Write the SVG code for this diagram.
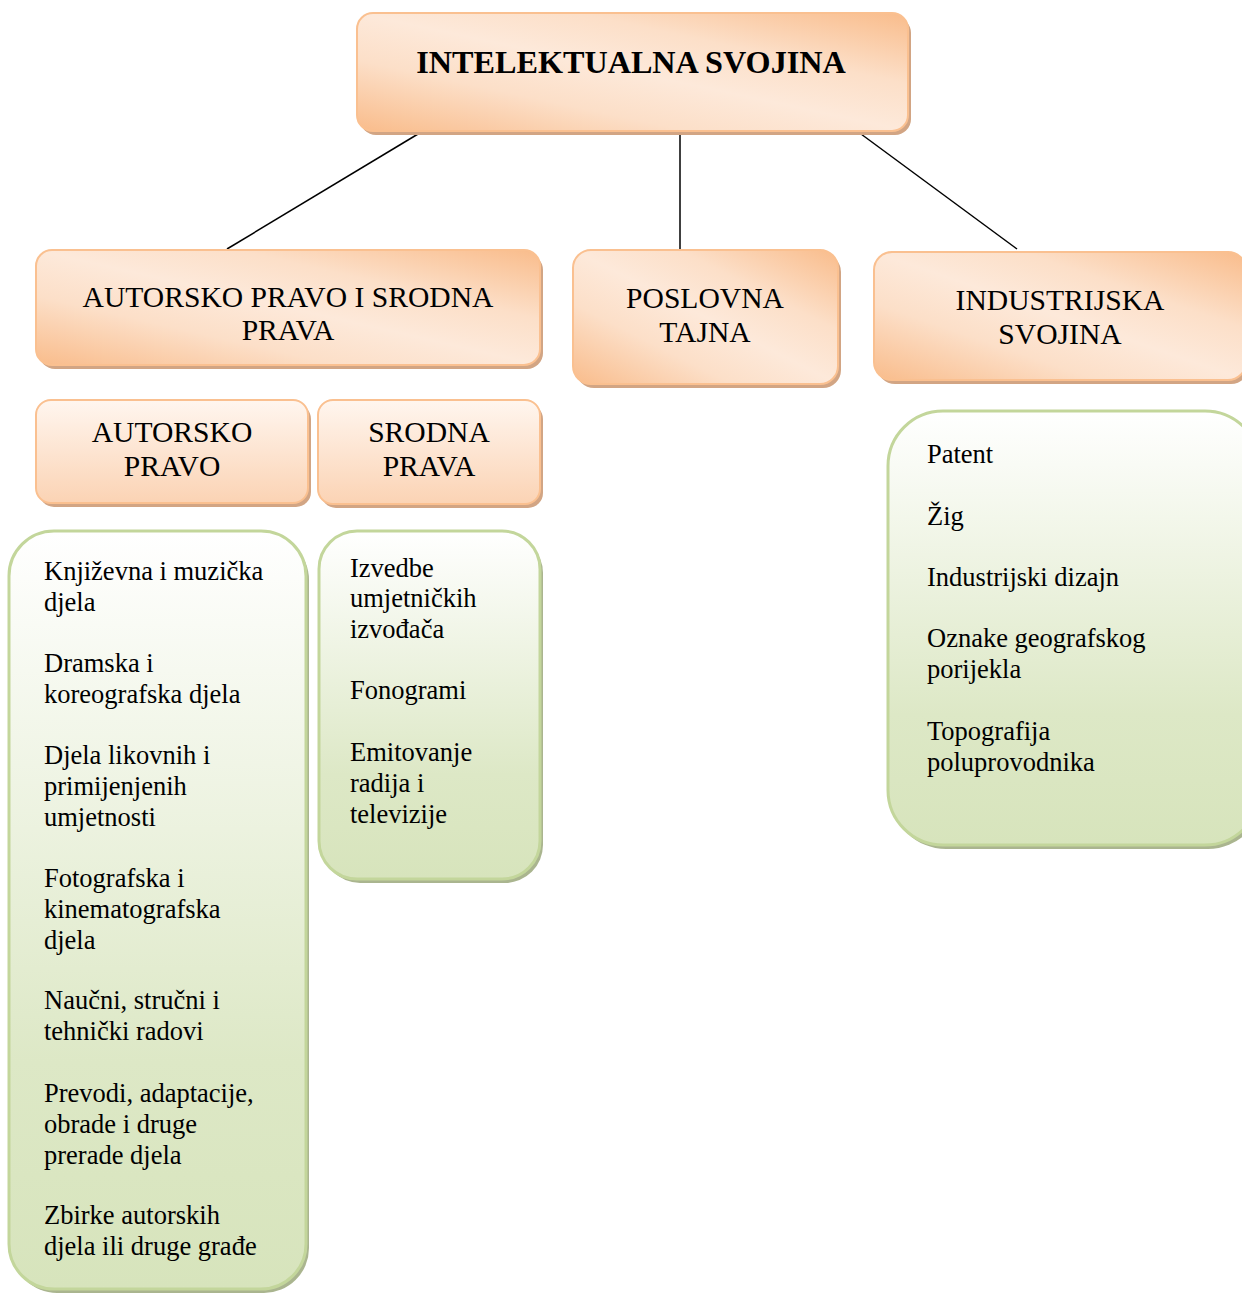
<svg xmlns="http://www.w3.org/2000/svg" width="1242" height="1294" viewBox="0 0 1242 1294">
<defs>
<linearGradient id="og" x1="0" y1="1" x2="1" y2="0">
<stop offset="0" stop-color="#F9BC8B"/>
<stop offset="0.3" stop-color="#FCDFC8"/>
<stop offset="0.5" stop-color="#FDE9DA"/>
<stop offset="0.7" stop-color="#FCDFC8"/>
<stop offset="1" stop-color="#F9BC8B"/>
</linearGradient>
<linearGradient id="ov" x1="0" y1="0" x2="0" y2="1">
<stop offset="0" stop-color="#FFF6EF"/>
<stop offset="1" stop-color="#FBD3B4"/>
</linearGradient>
<linearGradient id="gg" x1="0" y1="0" x2="0" y2="1">
<stop offset="0" stop-color="#FFFFFF"/>
<stop offset="0.7" stop-color="#DDE8C6"/>
<stop offset="1" stop-color="#D7E4BC"/>
</linearGradient>
<style>
.os{fill:#D2A584}
.gs{fill:#AAB58F}
.ob{stroke:#FAC090;stroke-width:2}
.gb{stroke:#C3D69B;stroke-width:3;fill:url(#gg)}
text{font-family:"Liberation Serif","Times New Roman",serif;fill:#000}
.h{font-size:29.6px;text-anchor:middle}
.t{font-size:32.2px;font-weight:bold;text-anchor:middle}
.l{font-size:26.5px}
.c line{stroke:#000;stroke-width:1.5}
</style>
</defs>
<rect width="1242" height="1294" fill="#fff"/>
<g class="c" id="connectors">
<line x1="418" y1="134" x2="227" y2="249"/>
<line x1="680" y1="134" x2="680" y2="249"/>
<line x1="861" y1="134" x2="1017" y2="249"/>
</g>
<g id="root">
<rect class="os" x="360" y="17" width="551" height="118" rx="16"/>
<rect class="ob" x="357" y="13" width="551" height="118" rx="16" fill="url(#og)"/>
<text class="t" x="631" y="73">INTELEKTUALNA SVOJINA</text>
</g>
<g id="autorsko-srodna">
<rect class="os" x="39" y="254" width="504" height="115" rx="16"/>
<rect class="ob" x="36" y="250" width="504" height="115" rx="16" fill="url(#og)"/>
<text class="h" x="288" y="307">AUTORSKO PRAVO I SRODNA</text>
<text class="h" x="288" y="340">PRAVA</text>
</g>
<g id="poslovna">
<rect class="os" x="576" y="254" width="265" height="134" rx="18"/>
<rect class="ob" x="573" y="250" width="265" height="134" rx="18" fill="url(#og)"/>
<text class="h" x="705" y="308">POSLOVNA</text>
<text class="h" x="705" y="342">TAJNA</text>
</g>
<g id="industrijska">
<rect class="os" x="877" y="256" width="372" height="128" rx="18"/>
<rect class="ob" x="874" y="252" width="372" height="128" rx="18" fill="url(#og)"/>
<text class="h" x="1060" y="310">INDUSTRIJSKA</text>
<text class="h" x="1060" y="344">SVOJINA</text>
</g>
<g id="autorsko">
<rect class="os" x="39" y="404" width="272" height="103" rx="15"/>
<rect class="ob" x="36" y="400" width="272" height="103" rx="15" fill="url(#ov)"/>
<text class="h" x="172" y="442">AUTORSKO</text>
<text class="h" x="172" y="476">PRAVO</text>
</g>
<g id="srodna">
<rect class="os" x="321" y="404" width="222" height="104" rx="15"/>
<rect class="ob" x="318" y="400" width="222" height="104" rx="15" fill="url(#ov)"/>
<text class="h" x="429" y="442">SRODNA</text>
<text class="h" x="429" y="476">PRAVA</text>
</g>
<g id="autorsko-lista">
<rect class="gs" x="12" y="535" width="297" height="758" rx="45"/>
<rect class="gb" x="9" y="531" width="297" height="758" rx="45"/>
<g class="l">
<text x="44" y="580">Književna i muzička</text>
<text x="44" y="611">djela</text>
<text x="44" y="672">Dramska i</text>
<text x="44" y="703">koreografska djela</text>
<text x="44" y="764">Djela likovnih i</text>
<text x="44" y="795">primijenjenih</text>
<text x="44" y="826">umjetnosti</text>
<text x="44" y="887">Fotografska i</text>
<text x="44" y="918">kinematografska</text>
<text x="44" y="949">djela</text>
<text x="44" y="1009">Naučni, stručni i</text>
<text x="44" y="1040">tehnički radovi</text>
<text x="44" y="1102">Prevodi, adaptacije,</text>
<text x="44" y="1133">obrade i druge</text>
<text x="44" y="1164">prerade djela</text>
<text x="44" y="1224">Zbirke autorskih</text>
<text x="44" y="1255">djela ili druge građe</text>
</g>
</g>
<g id="srodna-lista">
<rect class="gs" x="322" y="535" width="221" height="348" rx="38"/>
<rect class="gb" x="319" y="531" width="221" height="348" rx="38"/>
<g class="l">
<text x="350" y="577">Izvedbe</text>
<text x="350" y="607">umjetničkih</text>
<text x="350" y="638">izvođača</text>
<text x="350" y="699">Fonogrami</text>
<text x="350" y="761">Emitovanje</text>
<text x="350" y="792">radija i</text>
<text x="350" y="823">televizije</text>
</g>
</g>
<g id="industrijska-lista">
<rect class="gs" x="891" y="415" width="372" height="434" rx="55"/>
<rect class="gb" x="888" y="411" width="372" height="434" rx="55"/>
<g class="l">
<text x="927" y="463">Patent</text>
<text x="927" y="525">Žig</text>
<text x="927" y="586">Industrijski dizajn</text>
<text x="927" y="647">Oznake geografskog</text>
<text x="927" y="678">porijekla</text>
<text x="927" y="740">Topografija</text>
<text x="927" y="771">poluprovodnika</text>
</g>
</g>
</svg>
